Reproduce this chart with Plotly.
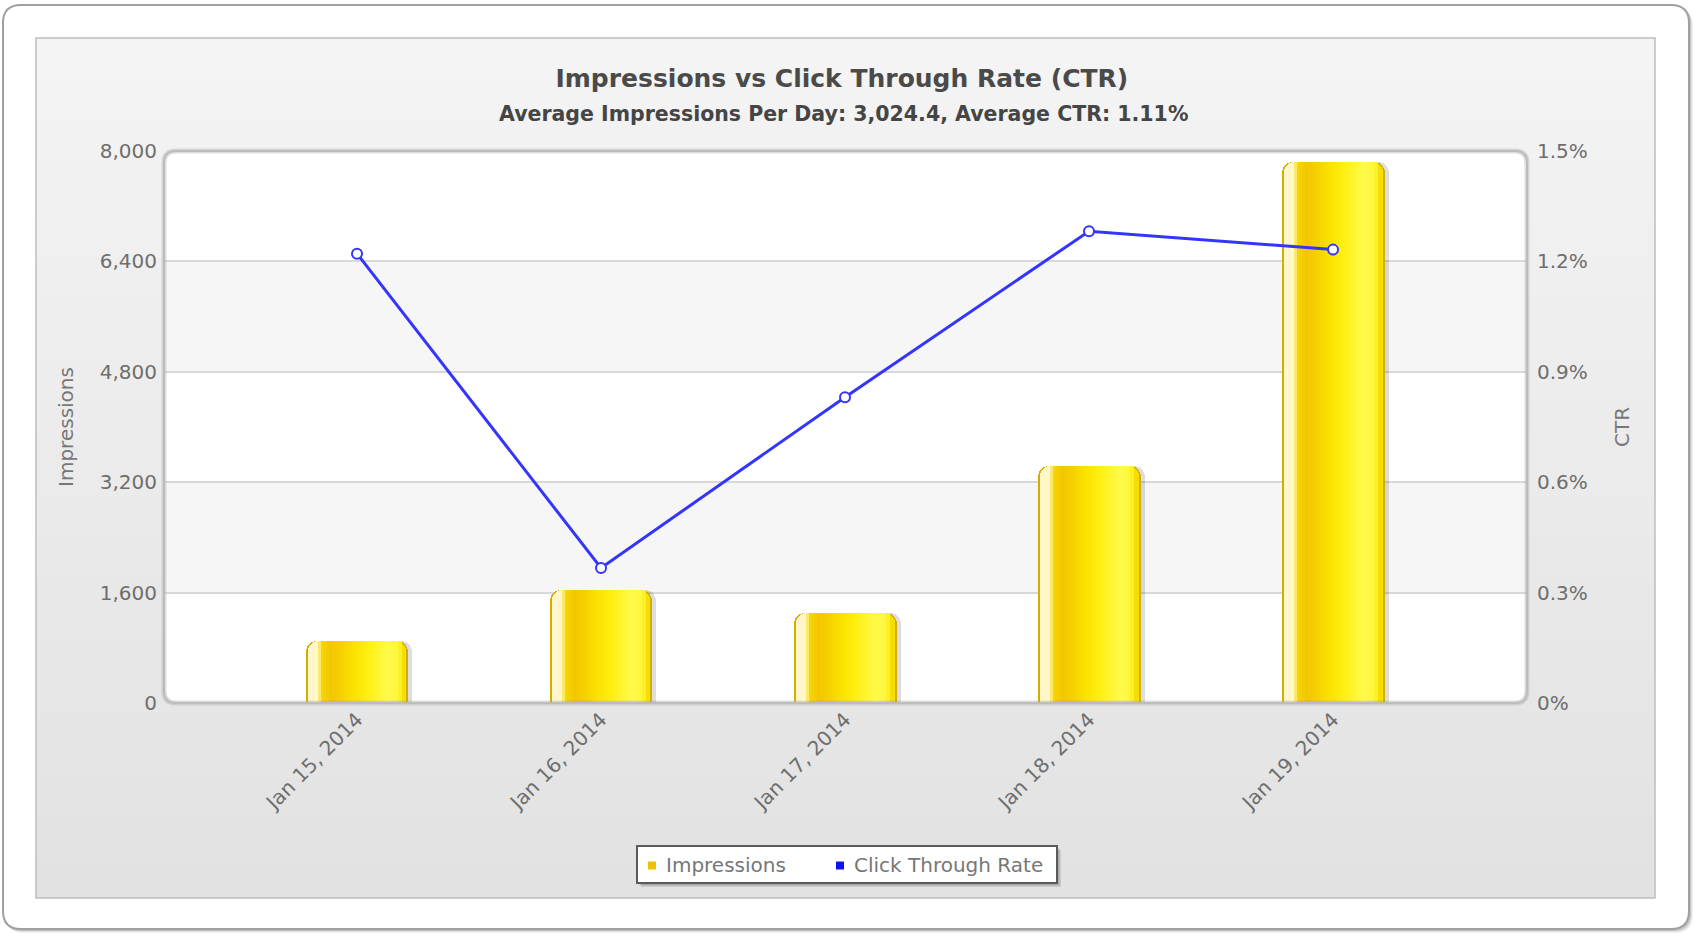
import plotly.graph_objects as go

# ---- data ----
dates = ["Jan 15, 2014", "Jan 16, 2014", "Jan 17, 2014", "Jan 18, 2014", "Jan 19, 2014"]
impressions = [905, 1640, 1310, 3430, 7837]
ctr_pct = [1.221, 0.367, 0.831, 1.282, 1.232]

imp_ticks = [0, 1600, 3200, 4800, 6400, 8000]
ctr_ticks = [0, 0.3, 0.6, 0.9, 1.2, 1.5]
ctr_tick_text = ["0%", "0.3%", "0.6%", "0.9%", "1.2%", "1.5%"]

series_names = ["Impressions", "Click Through Rate"]
series_colors = ["#f0c000", "#1010ff"]

title_text = "Impressions vs Click Through Rate (CTR)"
subtitle_text = "Average Impressions Per Day: 3,024.4, Average CTR: 1.11%"

# ---- page geometry (pixels) ----
W, H = 1695, 933
PL, PR, PT, PB = 164, 1527, 151, 703          # plot area
PW, PH = PR - PL, PB - PT
X_RANGE = [-0.791, 4.795]
PX_PER_CAT = PW / (X_RANGE[1] - X_RANGE[0])
BAR_W = 0.422

FONT = "DejaVu Sans"


def px(x):
    return (x - PL) / PW


def py(y):
    return (PB - y) / PH


def rounded_rect(x0, y0, x1, y1, r):
    """SVG path (paper coords) for a rounded rectangle given in pixels."""
    rx, ry = r / PW, r / PH
    a0, a1 = px(x0), px(x1)
    b0, b1 = py(y1), py(y0)   # b0 bottom, b1 top
    return (f"M{a0+rx},{b1} L{a1-rx},{b1} Q{a1},{b1} {a1},{b1-ry} "
            f"L{a1},{b0+ry} Q{a1},{b0} {a1-rx},{b0} L{a0+rx},{b0} "
            f"Q{a0},{b0} {a0},{b0+ry} L{a0},{b1-ry} Q{a0},{b1} {a0+rx},{b1} Z")


def hex2rgb(h):
    h = h.lstrip("#")
    return tuple(int(h[i:i + 2], 16) for i in (0, 2, 4))


def lerp_color(stops, f):
    for (f0, c0), (f1, c1) in zip(stops, stops[1:]):
        if f0 <= f <= f1:
            t = 0 if f1 == f0 else (f - f0) / (f1 - f0)
            a, b = hex2rgb(c0), hex2rgb(c1)
            return "rgb(%d,%d,%d)" % tuple(round(a[i] + (b[i] - a[i]) * t) for i in range(3))
    return stops[-1][1]


shapes = []
annotations = []

# card with soft shadow
for i, a in enumerate([0.05, 0.08, 0.12]):
    d = 3 - i
    shapes.append(dict(type="path", xref="paper", yref="paper", layer="below",
                       path=rounded_rect(3 + d, 5 + d, 1690 + d, 930 + d, 18),
                       fillcolor=f"rgba(0,0,0,{a})", line=dict(width=0)))
shapes.append(dict(type="path", xref="paper", yref="paper", layer="below",
                   path=rounded_rect(3, 5, 1689, 929, 18),
                   fillcolor="white", line=dict(color="#a0a0a0", width=2)))

# grey panel with vertical gradient
P_X0, P_X1, P_Y0, P_Y1 = 36, 1655, 38, 898
N = 43
top_c, bot_c = hex2rgb("#f4f4f4"), hex2rgb("#e2e2e2")
for i in range(N):
    t = i / (N - 1)
    c = "rgb(%d,%d,%d)" % tuple(round(top_c[k] + (bot_c[k] - top_c[k]) * t) for k in range(3))
    y0 = P_Y0 + (P_Y1 - P_Y0) * i / N
    y1 = P_Y0 + (P_Y1 - P_Y0) * (i + 1) / N + 0.6
    shapes.append(dict(type="rect", xref="paper", yref="paper", layer="below",
                       x0=px(P_X0), x1=px(P_X1), y0=py(min(y1, P_Y1)), y1=py(y0),
                       fillcolor=c, line=dict(width=0)))
shapes.append(dict(type="rect", xref="paper", yref="paper", layer="below",
                   x0=px(P_X0), x1=px(P_X1), y0=py(P_Y1), y1=py(P_Y0),
                   fillcolor="rgba(0,0,0,0)", line=dict(color="#bdbdbd", width=1.5)))

# white plot area and alternating bands
shapes.append(dict(type="path", xref="paper", yref="paper", layer="below",
                   path=rounded_rect(PL, PT, PR, PB, 12),
                   fillcolor="white", line=dict(width=0)))
for lo, hi in [(imp_ticks[1], imp_ticks[2]), (imp_ticks[3], imp_ticks[4])]:
    shapes.append(dict(type="rect", xref="paper", yref="y", layer="below",
                       x0=0, x1=1, y0=lo, y1=hi,
                       fillcolor="#f6f6f6", line=dict(width=0)))

# frame around plot area
shapes.append(dict(type="path", xref="paper", yref="paper", layer="above",
                   path=rounded_rect(PL, PT, PR, PB, 12),
                   fillcolor="rgba(0,0,0,0)", line=dict(color="rgba(160,160,160,0.35)", width=5)))
shapes.append(dict(type="path", xref="paper", yref="paper", layer="above",
                   path=rounded_rect(PL, PT, PR, PB, 12),
                   fillcolor="rgba(0,0,0,0)", line=dict(color="#bcbcbc", width=2)))

# ---- legend box: shadow, frame, swatches, labels ----
LG_X0, LG_X1, LG_Y0, LG_Y1 = 637, 1057, 846, 883
LG_YC = (LG_Y0 + LG_Y1) / 2 + 1
for i, a in enumerate([0.10, 0.16]):
    d = 4 - i * 1.5
    shapes.append(dict(type="rect", xref="paper", yref="paper", layer="above",
                       x0=px(LG_X0 + d), x1=px(LG_X1 + d), y0=py(LG_Y1 + d), y1=py(LG_Y0 + d),
                       fillcolor=f"rgba(0,0,0,{a})", line=dict(width=0)))
shapes.append(dict(type="rect", xref="paper", yref="paper", layer="above",
                   x0=px(LG_X0), x1=px(LG_X1), y0=py(LG_Y1), y1=py(LG_Y0),
                   fillcolor="white", line=dict(color="#5a5a5a", width=2)))
swatch_x = [652, 840]
for sx, name, col in zip(swatch_x, series_names, series_colors):
    shapes.append(dict(type="rect", xref="paper", yref="paper", layer="above",
                       x0=px(sx - 4), x1=px(sx + 4), y0=py(LG_YC + 4), y1=py(LG_YC - 4),
                       fillcolor=col, line=dict(width=0)))
    annotations.append(dict(text=name, xref="paper", yref="paper",
                            x=px(sx + 12), y=py(LG_YC - 1), xanchor="left", yanchor="middle",
                            showarrow=False,
                            font=dict(family=FONT, size=20, color="#777777")))

fig = go.Figure()
xs = list(range(len(dates)))

# ---- bars: cylinder look built from overlaid slices ----
d1 = 1 / PX_PER_CAT
fig.add_trace(go.Bar(x=xs, y=impressions, width=BAR_W, offset=-BAR_W / 2 + 4 * d1,
                     marker=dict(color="rgba(0,0,0,0.13)", cornerradius=11, line=dict(width=0)),
                     showlegend=False, hoverinfo="skip"))
fig.add_trace(go.Bar(x=xs, y=impressions, width=BAR_W, offset=-BAR_W / 2,
                     marker=dict(color="#d2ae00", cornerradius=11, line=dict(width=0)),
                     showlegend=False, hoverinfo="skip"))
fig.add_trace(go.Bar(x=xs, y=impressions, width=BAR_W / 2, offset=-BAR_W / 2 + 2 * d1,
                     marker=dict(color="#fff6cc", cornerradius=10, line=dict(width=0)),
                     showlegend=False, hoverinfo="skip"))
fig.add_trace(go.Bar(x=xs, y=impressions, width=BAR_W / 2 - 2 * d1, offset=0,
                     marker=dict(color="#f6de00", cornerradius=10, line=dict(width=0)),
                     showlegend=False, hoverinfo="skip"))

stops = [(0.00, "#d4b000"), (0.03, "#f4d400"), (0.07, "#fffde0"), (0.11, "#fff8c0"),
         (0.16, "#f8d600"), (0.25, "#f3c600"), (0.35, "#f6d200"), (0.48, "#fbe400"),
         (0.62, "#fff014"), (0.80, "#fffa4c"), (0.90, "#fff73a"), (0.96, "#f3dc00"),
         (1.00, "#d4b400")]
F0, F1, NS = 0.09, 0.93, 30
for i in range(NS):
    fa = F0 + (F1 - F0) * i / NS
    fb = F0 + (F1 - F0) * (i + 1) / NS
    fig.add_trace(go.Bar(
        x=xs, y=impressions,
        width=(fb - fa) * BAR_W + 0.3 * d1,
        offset=-BAR_W / 2 + fa * BAR_W,
        marker=dict(color=lerp_color(stops, (fa + fb) / 2), line=dict(width=0)),
        name=series_names[0], showlegend=False,
        hovertemplate="%{customdata}<br>Impressions: %{y:,}<extra></extra>" if i == 0 else None,
        customdata=dates, hoverinfo=None if i == 0 else "skip"))

# ---- CTR line ----
fig.add_trace(go.Scatter(
    x=xs, y=ctr_pct, yaxis="y2", mode="lines+markers", name=series_names[1],
    line=dict(color="#3434ff", width=3),
    marker=dict(symbol="circle", size=10, color="white", line=dict(color="#3434ff", width=2)),
    showlegend=False, customdata=dates,
    hovertemplate="%{customdata}<br>CTR: %{y:.2f}%<extra></extra>"))

annotations.append(dict(text=subtitle_text, xref="paper", yref="paper",
                        x=px(843), y=py(113.5), xanchor="center", yanchor="middle",
                        showarrow=False,
                        font=dict(family=FONT, size=20.5, color="#454545", weight="bold")))

tick_font = dict(family=FONT, size=20, color="#6e6e6e")

fig.update_layout(
    width=W, height=H,
    margin=dict(l=PL, r=W - PR, t=PT, b=H - PB, pad=0),
    paper_bgcolor="white", plot_bgcolor="rgba(0,0,0,0)",
    barmode="overlay", bargap=0,
    shapes=shapes,
    annotations=annotations,
    showlegend=False,
    font=dict(family=FONT),
    title=dict(text=title_text, x=843 / W, xanchor="center", xref="paper",
               y=1 - 78 / H, yanchor="middle", yref="container",
               font=dict(family=FONT, size=25, color="#4a4a4a", weight="bold")),
    xaxis=dict(range=X_RANGE, tickvals=xs, ticktext=dates, tickangle=-45,
               showgrid=False, zeroline=False, showline=False, ticks="",
               tickfont=tick_font, fixedrange=True),
    yaxis=dict(range=[0, 8000], tickvals=imp_ticks, tickformat=",", showgrid=True,
               gridcolor="#d8d8d8", gridwidth=2, zeroline=False, showline=False,
               ticks="", tickfont=tick_font, ticklabelstandoff=6,
               title=dict(text="Impressions", standoff=20,
                          font=dict(family=FONT, size=20, color="#777777"))),
    yaxis2=dict(range=[0, 1.5], tickvals=ctr_ticks, ticktext=ctr_tick_text,
                overlaying="y", side="right", showgrid=False, zeroline=False,
                showline=False, ticks="", tickfont=tick_font, ticklabelstandoff=9,
                title=dict(text="CTR", standoff=28,
                           font=dict(family=FONT, size=20, color="#777777"))),
    hovermode="closest",
)

fig.write_html("out.html")
